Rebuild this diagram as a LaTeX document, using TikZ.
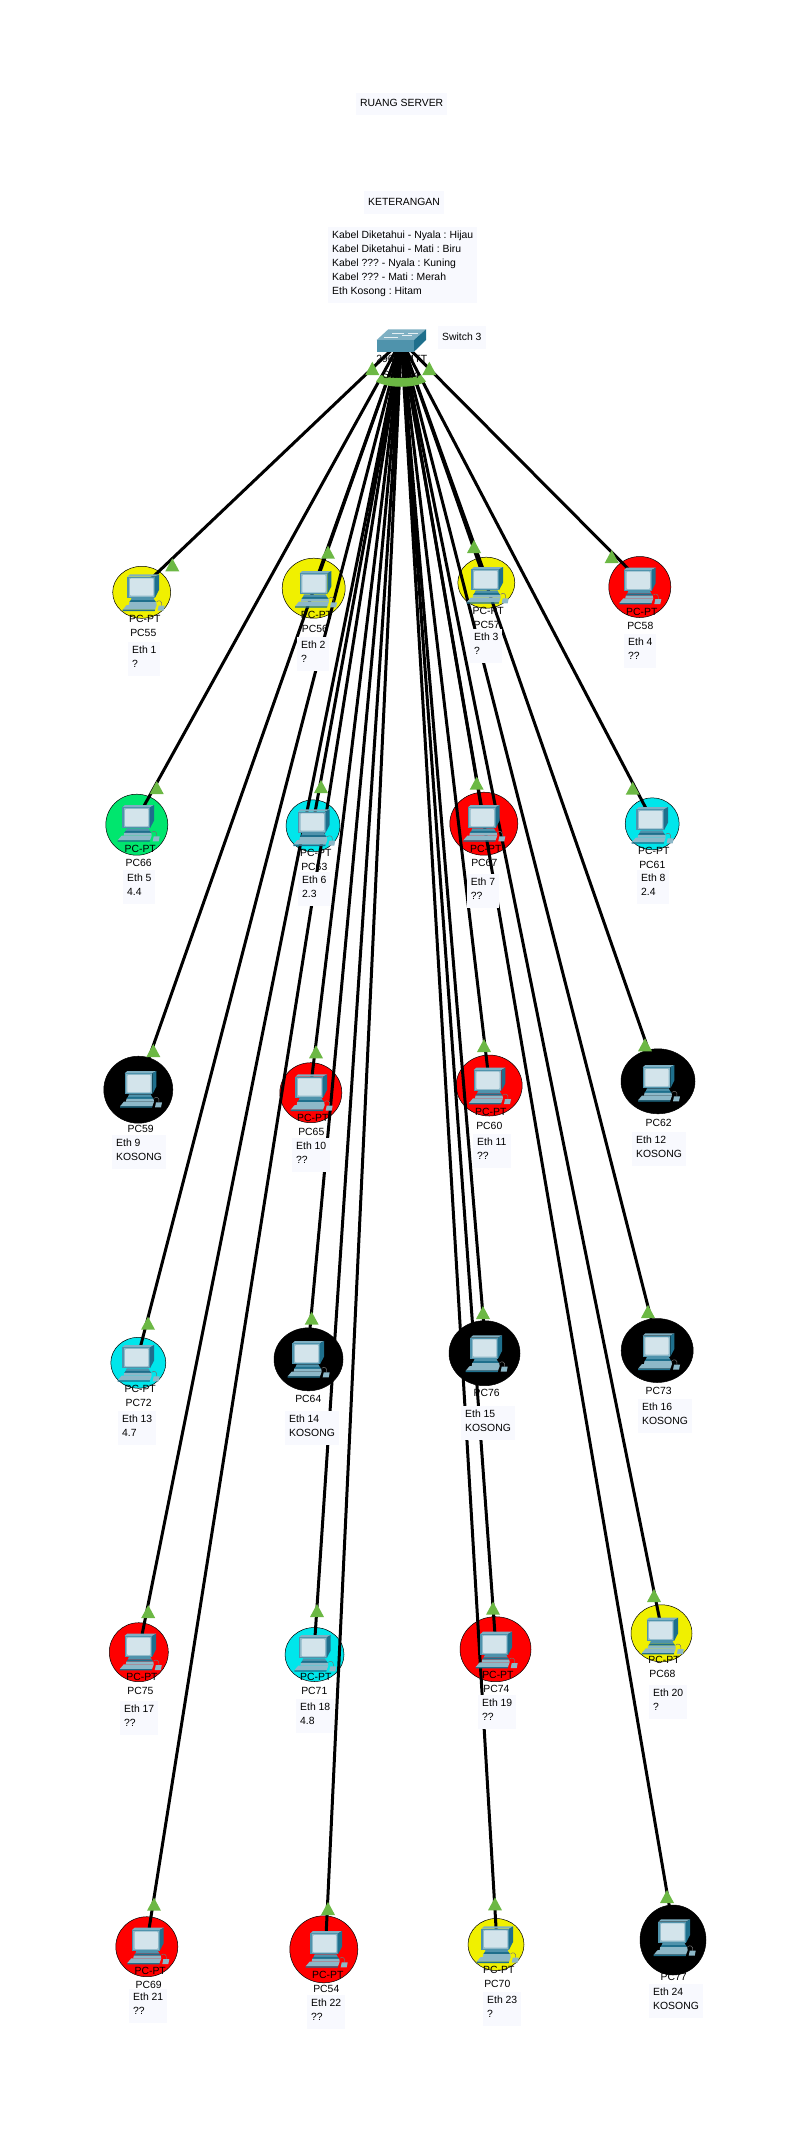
\documentclass[tikz,border=0pt]{standalone}
\usepackage{fontspec}
\setmainfont{Liberation Sans}
\usetikzlibrary{calc, shapes.geometric}
\definecolor{pcyellow}{HTML}{F0F000}
\definecolor{pcred}{HTML}{FF0000}
\definecolor{pccyan}{HTML}{00E6EB}
\definecolor{pcgreen}{HTML}{00E66E}
\definecolor{linkgreen}{HTML}{6CB844}
\definecolor{notefill}{HTML}{F8F9FE}
\definecolor{ciscoface}{HTML}{4F93AC}
\definecolor{ciscodark}{HTML}{1E6F8C}
\definecolor{ciscotop}{HTML}{7FB0C3}
\definecolor{ciscolight}{HTML}{8DB8C8}
\definecolor{ciscoscreen}{HTML}{D3E4EB}
\pgfdeclarelayer{discs}
\pgfdeclarelayer{names}
\pgfdeclarelayer{wires}
\pgfdeclarelayer{links}
\pgfsetlayers{discs,names,wires,links,main}
\def\blackname{black}
\frenchspacing

\begin{document}
\begin{tikzpicture}[
  x=1pt, y=-1pt,
  font=\fontsize{10.4}{14}\selectfont,
  disc/.style    = {ellipse, draw=black, line width=0.5pt, inner sep=0pt},
  pclabel/.style = {inner sep=0pt},
  notebox/.style = {fill=notefill, align=left, inner xsep=4pt, inner ysep=4.2pt,
                    anchor=north west, execute at begin node=\strut,
                    execute at end node=\strut},
  wire/.style    = {draw=black, line width=3pt},
  link/.style    = {fill=linkgreen},
  pcicon/.pic    = {
    % monitor
    \fill[ciscotop] (-15.3,-10) -- (-12.7,-12.3) -- (16.3,-12.3) -- (12.3,-10) -- cycle;
    \fill[ciscodark] (12.3,-10) -- (16.3,-12.3) -- (16.3,3.3) -- (12.3,11) -- cycle;
    \fill[ciscoface] (-15.3,-10) rectangle (12.3,11);
    \fill[ciscolight] (-14,-9) rectangle (11.6,10);
    \fill[ciscoscreen, rounded corners=1pt] (-12.7,-8.3) rectangle (10.6,9);
    % stand
    \fill[ciscoface] (-11,11) -- (10.7,11) -- (12,13.5) -- (-12,13.5) -- cycle;
    \fill[ciscodark] (-12,13.5) -- (12,13.5) -- (13.5,15.5) -- (-13.5,15.5) -- cycle;
    \fill[ciscolight] (-13.5,15.5) -- (13.5,15.5) -- (14,18.3) -- (-14,18.3) -- cycle;
    % keyboard and mouse
    \fill[ciscolight] (-16,18.3) -- (14,18.3) -- (12.3,23) -- (-20,23) -- cycle;
    \fill[ciscodark] (-20,23) -- (12.3,23) -- (12,24.3) -- (-20,24.3) -- cycle;
    \draw[black!55, line width=0.5pt] (19,19) .. controls (20,14) and (16,13) .. (14,15);
    \fill[ciscolight] (16,19) -- (22,19) -- (21,24) -- (15,24) -- cycle;
  },
]

\useasboundingbox (0,0) rectangle (805,2142);

% PC card: #1 name, #2 text, #3 colour, #4 monitor centre, #5 disc centre,
% #6 #7 disc size, #8 tip of the link light, #9 centre of the text.
\newcommand{\pccard}[9]{%
  \coordinate (#1) at #4;
  \begin{pgfonlayer}{discs}
    \node[disc, fill=#3, minimum width=#6pt, minimum height=#7pt] (#1d) at #5 {};
  \end{pgfonlayer}
  \begin{pgfonlayer}{names}
    \node[pclabel] (#1n) at #9 {#2};
    \def\pccolour{#3}%
    \ifx\pccolour\blackname\else
      \node[pclabel] (#1m) at ($(#1n)+(1.5,-14)$) {PC-PT};
    \fi
  \end{pgfonlayer}
  \begin{pgfonlayer}{wires}
    \draw[wire] (sw) -- (#1);
  \end{pgfonlayer}
  \begin{pgfonlayer}{links}
    \fill[link] #8 -- ++(-7,13) -- ++(14,0) -- cycle;
  \end{pgfonlayer}
  \pic at (#1) {pcicon};
}

% ================================ titles and legend ===========================
\node[notebox] (title) at (356,92.5) {RUANG SERVER};
\node[notebox] (legendhead) at (364,191) {KETERANGAN};
\node[notebox] (legend) at (328,227)
     {Kabel Diketahui - Nyala : Hijau\\Kabel Diketahui - Mati : Biru\\
      Kabel ??? - Nyala : Kuning\\Kabel ??? - Mati : Merah\\Eth Kosong : Hitam};

% ================================ switch ======================================
\coordinate (sw) at (401.3,340.7);
\fill[ciscotop] (376.7,340) -- (388.3,329.3) -- (426,329.3) -- (414,340) -- cycle;
\fill[ciscodark] (414,340) -- (426,329.3) -- (426,340) -- (414,351.7) -- cycle;
\fill[ciscoface] (376.7,340) rectangle (414,351.7);
\draw[white!80!ciscotop, line width=0.7pt] (392,333) -- (404,333) (408,333) -- (418,333)
     (384,337) -- (398,337) (402,335.5) -- (412,335.5);
\node[notebox] (swname) at (438,326) {Switch 3};
\begin{pgfonlayer}{names}
  \node[pclabel] (swmodel) at (401.7,359.3) {2960-24TT};
\end{pgfonlayer}
\begin{pgfonlayer}{links}
  \fill[link] (376,381.5) -- (381,375) .. controls (388,379) and (414,379) .. (421,375)
       -- (426,381.5) .. controls (414,388.5) and (388,388.5) .. (376,381.5) -- cycle;
  \fill[link] (372.3,361.7) -- ++(-7,13.3) -- ++(14,0) -- cycle;
  \fill[link] (429.3,361.7) -- ++(-7,13.3) -- ++(14,0) -- cycle;
\end{pgfonlayer}
\node[pclabel] (swlabel) at (401,374.3) {Switch4};

% ================================ row 1 =======================================
\pccard{pc55}{PC55}{pcyellow}{(142.7,586.7)}{(141.7,592.3)}{58}{52}{(172.3,558.3)}{(143.3,633.3)}
\pccard{pc56}{PC56}{pcyellow}{(315,583.3)}{(313.7,588.2)}{63}{60}{(328,545.7)}{(315,629)}
\pccard{pc57}{PC57}{pcyellow}{(486.7,579.3)}{(486.3,582.7)}{57}{51}{(474,540)}{(486.7,625)}
\pccard{pc58}{PC58}{pcred}{(639.3,580)}{(639.8,587)}{62}{61}{(611.7,550)}{(640.3,626)}
\node[notebox] (eth1) at (128,641.7) {Eth 1\\?};
\node[notebox] (eth2) at (297,636.7) {Eth 2\\?};
\node[notebox] (eth3) at (470,628.3) {Eth 3\\?};
\node[notebox] (eth4) at (624,633.3) {Eth 4\\??};

% ================================ row 2 =======================================
\pccard{pc66}{PC66}{pcgreen}{(137.7,817.3)}{(136.8,824.7)}{62}{61}{(156.7,781)}{(138.7,863.3)}
\pccard{pc63}{PC63}{pccyan}{(313.3,821.7)}{(313,825.8)}{54}{52}{(321,780)}{(314.3,867)}
\pccard{pc67}{PC67}{pcred}{(483.3,817.3)}{(483.8,823.7)}{68}{63}{(476.7,776.7)}{(484.3,863.3)}
\pccard{pc61}{PC61}{pccyan}{(651.7,819.3)}{(652.2,823.8)}{54}{52}{(632.7,781.7)}{(652.3,865)}
\node[notebox] (eth5) at (123,869.3) {Eth 5\\4.4};
\node[notebox] (eth6) at (298,871.7) {Eth 6\\2.3};
\node[notebox] (eth7) at (466.7,873.3) {Eth 7\\??};
\node[notebox] (eth8) at (637,869.3) {Eth 8\\2.4};

% ================================ row 3 =======================================
\pccard{pc59}{PC59}{black}{(140,1083.3)}{(138.3,1089.7)}{69}{67}{(153.3,1044)}{(140.7,1129)}
\pccard{pc65}{PC65}{pcred}{(310.7,1086.7)}{(310.8,1092.7)}{62}{60}{(316,1045.3)}{(311.3,1132)}
\pccard{pc60}{PC60}{pcred}{(489,1080)}{(489.2,1085.5)}{66}{61}{(484,1039)}{(489.3,1126)}
\pccard{pc62}{PC62}{black}{(658,1077.3)}{(658,1081.3)}{74}{65}{(645,1038.3)}{(658.7,1123)}
\node[notebox] (eth9) at (112,1135) {Eth 9\\KOSONG};
\node[notebox] (eth10) at (292,1137.3) {Eth 10\\??};
\node[notebox] (eth11) at (473,1134) {Eth 11\\??};
\node[notebox] (eth12) at (632,1132) {Eth 12\\KOSONG};

% ================================ row 4 =======================================
\pccard{pc72}{PC72}{pccyan}{(137.7,1357.3)}{(138.3,1362.8)}{55}{51}{(148,1316.7)}{(138.7,1403.3)}
\pccard{pc64}{PC64}{black}{(307.7,1353.3)}{(308.5,1359.3)}{69}{63}{(311.7,1311.7)}{(308.3,1399.3)}
\pccard{pc76}{PC76}{black}{(485.7,1347.7)}{(484.5,1353.2)}{71}{65}{(483,1306)}{(486.7,1393)}
\pccard{pc73}{PC73}{black}{(658,1345.7)}{(657.2,1350.5)}{72}{64}{(648,1305)}{(658.7,1391)}
\node[notebox] (eth13) at (118,1411) {Eth 13\\4.7};
\node[notebox] (eth14) at (285,1411) {Eth 14\\KOSONG};
\node[notebox] (eth15) at (461,1406) {Eth 15\\KOSONG};
\node[notebox] (eth16) at (638,1398.3) {Eth 16\\KOSONG};

% ================================ row 5 =======================================
\pccard{pc75}{PC75}{pcred}{(139.8,1646)}{(138.8,1652.2)}{59}{59}{(148.2,1605)}{(140.5,1691.3)}
\pccard{pc71}{PC71}{pccyan}{(314.3,1647.3)}{(314.5,1654.5)}{59}{54}{(317,1604)}{(314.3,1691.3)}
\pccard{pc74}{PC74}{pcred}{(495.7,1644)}{(495.5,1649.2)}{71}{65}{(493,1601.7)}{(496.4,1689.3)}
\pccard{pc68}{PC68}{pcyellow}{(661.8,1630)}{(661.5,1633.3)}{61}{57}{(654,1589)}{(662.5,1674)}
\node[notebox] (eth17) at (120,1701) {Eth 17\\??};
\node[notebox] (eth18) at (296,1698.3) {Eth 18\\4.8};
\node[notebox] (eth19) at (478,1695) {Eth 19\\??};
\node[notebox] (eth20) at (649,1685) {Eth 20\\?};

% ================================ row 6 =======================================
\pccard{pc69}{PC69}{pcred}{(147.3,1940)}{(146.8,1946.7)}{62}{60}{(154,1897.7)}{(148.7,1985)}
\pccard{pc54}{PC54}{pcred}{(325.7,1943.3)}{(323.8,1949.3)}{68}{67}{(328,1902)}{(326.3,1989)}
\pccard{pc70}{PC70}{pcyellow}{(496.7,1938.7)}{(496,1944.5)}{56}{52}{(495,1897.3)}{(497.3,1984)}
\pccard{pc77}{PC77}{black}{(673.7,1931.7)}{(673,1940)}{66}{70}{(667,1890)}{(673.7,1977.3)}
\node[notebox] (eth21) at (129,1989) {Eth 21\\??};
\node[notebox] (eth22) at (307,1995) {Eth 22\\??};
\node[notebox] (eth23) at (483,1992) {Eth 23\\?};
\node[notebox] (eth24) at (649,1984) {Eth 24\\KOSONG};

\end{tikzpicture}
\end{document}
